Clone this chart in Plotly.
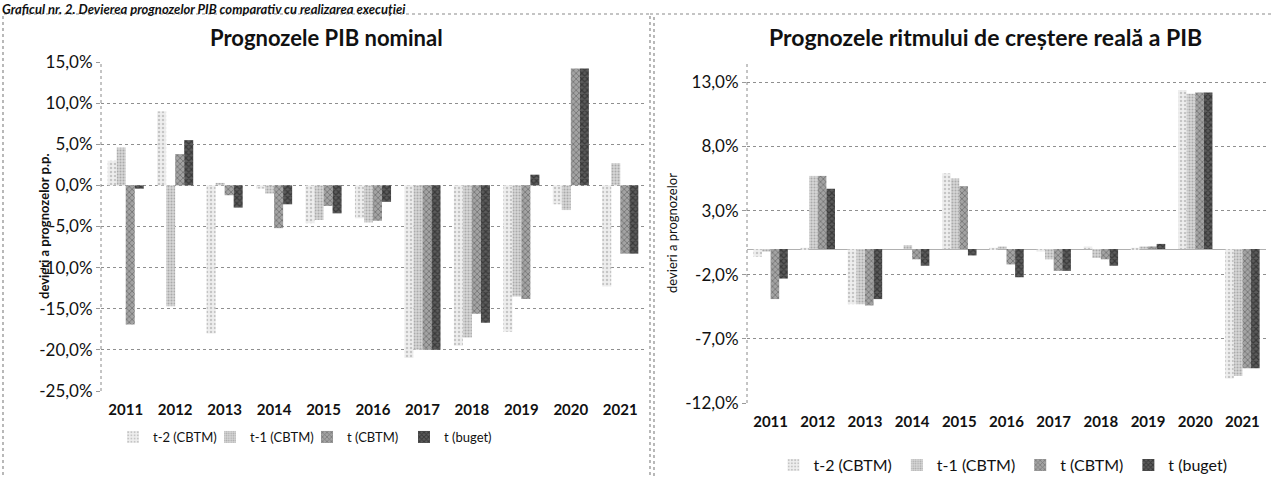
import plotly.graph_objects as go

W, H = 1272, 477

years = ['2011', '2012', '2013', '2014', '2015', '2016', '2017', '2018', '2019', '2020', '2021']
series_names = ['t-2 (CBTM)', 't-1 (CBTM)', 't (CBTM)', 't (buget)']

# Prognozele PIB nominal (%)
nom_t2 = [3.0, 9.0, -18.0, -0.4, -4.6, -4.0, -21.0, -19.5, -17.8, -2.3, -12.3]
nom_t1 = [4.6, -14.7, 0.3, -1.0, -4.2, -4.5, -20.0, -18.5, -13.5, -3.0, 2.7]
nom_t = [-16.9, 3.8, -1.2, -5.2, -2.5, -4.3, -20.0, -15.6, -13.8, 14.2, -8.3]
nom_buget = [-0.4, 5.5, -2.7, -2.3, -3.4, -2.0, -20.0, -16.7, 1.3, 14.2, -8.3]

# Prognozele ritmului de crestere reala a PIB (%)
real_t2 = [-0.6, 0.1, -4.3, 0.0, 5.9, 0.1, -0.2, 0.2, 0.1, 12.4, -10.1]
real_t1 = [-0.2, 5.7, -4.3, 0.3, 5.5, 0.2, -0.8, -0.7, 0.2, 12.1, -9.9]
real_t = [-3.9, 5.7, -4.4, -0.8, 4.9, -1.2, -1.7, -0.8, 0.2, 12.2, -9.3]
real_buget = [-2.3, 4.7, -3.9, -1.3, -0.5, -2.2, -1.7, -1.3, 0.4, 12.2, -9.3]

nom_ticks = [15, 10, 5, 0, -5, -10, -15, -20, -25]
real_ticks = [13, 8, 3, -2, -7, -12]

FONT = 'Lato'

# grayscale patterns imitating the scanned Excel fills
styles = [
    dict(color='#eeeeee', pattern=dict(shape='.', fgcolor='#9c9c9c', size=4, solidity=0.3)),
    dict(color='#d6d6d6', pattern=dict(shape='.', fgcolor='#7d7d7d', size=3, solidity=0.35)),
    dict(color='#a3a3a3', pattern=dict(shape='x', fgcolor='#4a4a4a', size=4, solidity=0.4)),
    dict(color='#5c5c5c', pattern=dict(shape='x', fgcolor='#151515', size=4, solidity=0.5)),
]


def px_x(v):
    return v / W


def px_y(v):
    return 1 - v / H


def pct(v):
    return f'{v:.1f}%'.replace('.', ',')


fig = go.Figure()

for name, vals, st in zip(series_names, [nom_t2, nom_t1, nom_t, nom_buget], styles):
    fig.add_trace(go.Bar(x=years, y=vals, name=name, marker=dict(line_width=0, **st),
                         xaxis='x', yaxis='y', legend='legend'))

for name, vals, st in zip(series_names, [real_t2, real_t1, real_t, real_buget], styles):
    fig.add_trace(go.Bar(x=years, y=vals, name=name, marker=dict(line_width=0, **st),
                         xaxis='x2', yaxis='y2', legend='legend2'))

# plot areas (pixels)
L = dict(x0=101, x1=645, top=62, bottom=391, rng=[-25, 15])
R = dict(x0=747, x1=1266, top=63, bottom=403, rng=[-12, 14.5])

grid = dict(showgrid=True, gridcolor='#8f8f8f', griddash='dot', gridwidth=1)
tickfont_y = dict(family=FONT, size=17, color='#111')
tickfont_x = dict(family=FONT, size=15, color='#111', weight='bold')

fig.update_layout(
    width=W, height=H,
    margin=dict(l=0, r=0, t=0, b=0, autoexpand=False),
    paper_bgcolor='white', plot_bgcolor='white',
    barmode='group', bargap=0.27, bargroupgap=0,
    font=dict(family=FONT, color='#111'),
    xaxis=dict(domain=[px_x(L['x0']), px_x(L['x1'])], anchor='y', type='category',
               tickfont=tickfont_x, showgrid=False, ticks='', ticklabelstandoff=8),
    yaxis=dict(domain=[px_y(L['bottom']), px_y(L['top'])], anchor='x', range=L['rng'],
               tickvals=nom_ticks, ticktext=[pct(v) for v in nom_ticks], tickfont=tickfont_y,
               zeroline=False, ticks='outside', ticklen=4, tickcolor='#999', **grid),
    xaxis2=dict(domain=[px_x(R['x0']), px_x(R['x1'])], anchor='y2', type='category',
                tickfont=tickfont_x, showgrid=False, ticks='', ticklabelstandoff=8),
    yaxis2=dict(domain=[px_y(R['bottom']), px_y(R['top'])], anchor='x2', range=R['rng'],
                tickvals=real_ticks, ticktext=[pct(v) for v in real_ticks], tickfont=tickfont_y,
                zeroline=True, zerolinecolor='#b0b0b0', zerolinewidth=1,
                ticks='outside', ticklen=4, tickcolor='#999', **grid,
                title=dict(text='devieri a prognozelor', standoff=4,
                           font=dict(family=FONT, size=13))),
    legend=dict(orientation='h', x=px_x(113), y=px_y(437), xanchor='left', yanchor='middle',
                font=dict(family=FONT, size=13), itemwidth=30, entrywidth=52,
                bgcolor='rgba(0,0,0,0)'),
    legend2=dict(orientation='h', x=px_x(1003), y=px_y(465), xanchor='center', yanchor='middle',
                 font=dict(family=FONT, size=16), itemwidth=30,
                 bgcolor='rgba(0,0,0,0)'),
)

# left axis title sits over the minus signs of the tick labels, as in the scan
fig.add_annotation(text='<b>devieri a prognozelor p.p.</b>', xref='paper', yref='paper',
                   x=px_x(44), y=px_y(226), textangle=-90, showarrow=False,
                   xanchor='center', yanchor='middle',
                   font=dict(family=FONT, size=13, color='#111'))

# dotted vertical axis lines
for xr, yr in (('x domain', 'y domain'), ('x2 domain', 'y2 domain')):
    fig.add_shape(type='line', xref=xr, yref=yr, x0=0, x1=0, y0=0, y1=1,
                  line=dict(color='#8a8a8a', width=1, dash='dot'))

# chart frames
frame = dict(color='#8a8a8a', width=1.2, dash='dot')
fig.add_shape(type='rect', xref='paper', yref='paper', x0=px_x(3), x1=px_x(650),
              y0=px_y(H + 5), y1=px_y(14), line=frame)
fig.add_shape(type='line', xref='paper', yref='paper', x0=px_x(650), x1=px_x(W),
              y0=px_y(14), y1=px_y(14), line=frame)
fig.add_shape(type='line', xref='paper', yref='paper', x0=px_x(654), x1=px_x(654),
              y0=px_y(H + 5), y1=px_y(14), line=frame)

# titles
fig.add_annotation(text='<b>Prognozele PIB nominal</b>', xref='paper', yref='paper',
                   x=px_x(326), y=px_y(37), xanchor='center', yanchor='middle', showarrow=False,
                   font=dict(family=FONT, size=22, color='#111'))
fig.add_annotation(text='<b>Prognozele ritmului de creștere reală a PIB</b>', xref='paper',
                   yref='paper', x=px_x(985), y=px_y(37), xanchor='center', yanchor='middle',
                   showarrow=False, font=dict(family=FONT, size=23, color='#111'))

# caption at the top edge of the scan
fig.add_annotation(text='<b>Graficul nr. 2. Devierea prognozelor PIB comparativ cu realizarea execuției</b>',
                   xref='paper', yref='paper', x=0, y=1, xanchor='left',
                   yanchor='top', yshift=1, showarrow=False,
                   font=dict(family=FONT, size=13, style='italic', color='#111'))

fig.write_html('out.html', config={'displayModeBar': False},
               post_script="document.body.style.margin='0';")
